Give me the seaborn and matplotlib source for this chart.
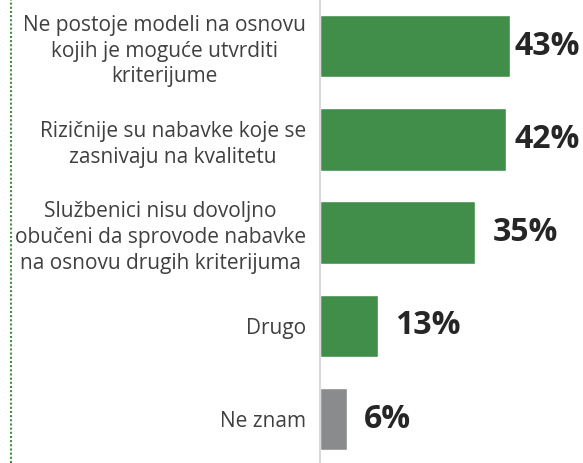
import pandas as pd
import seaborn as sns
import matplotlib.pyplot as plt
from matplotlib.lines import Line2D


categories = [
    'Ne postoje modeli na osnovu\nkojih je moguće utvrditi\nkriterijume',
    'Rizičnije su nabavke koje se\nzasnivaju na kvalitetu',
    'Službenici nisu dovoljno\nobučeni da sprovode nabavke\nna osnovu drugih kriterijuma',
    'Drugo',
    'Ne znam',
]
values = [43, 42, 35, 13, 6]
groups = ['answer', 'answer', 'answer', 'answer', 'unknown']
palette = {'answer': '#418E4A', 'unknown': '#898B8D'}

df = pd.DataFrame({'category': categories, 'value': values, 'group': groups})

sns.set_style('white')
plt.rcParams['font.family'] = ['Open Sans', 'DejaVu Sans']

fig = plt.figure(figsize=(5.83, 4.63), dpi=100)
ax = fig.add_axes([0.549, 0, 0.451, 1])

sns.barplot(data=df, y='category', x='value', hue='group', palette=palette,
            dodge=False, width=0.67, saturation=1, legend=False, ax=ax)

ax.set_xlim(0, 59.5)
ax.set_ylim(4.47, -0.495)
ax.set_xlabel('')
ax.set_ylabel('')
ax.set_xticks([])
ax.tick_params(axis='y', length=0, pad=10, labelsize=15, labelcolor='#404040')
for lab in ax.get_yticklabels():
    lab.set_multialignment('center')
    lab.set_linespacing(1.3)

for s in ['top', 'right', 'bottom']:
    ax.spines[s].set_visible(False)
ax.spines['left'].set_color('#d9d9d9')
ax.spines['left'].set_linewidth(1.5)

# value labels, pulled in for the longest bars
for i, v in enumerate(values):
    ax.text(min(v + 4, 44), i, f'{v}%', va='center', ha='left',
            fontsize=23, fontweight='bold', color='#262626')

# dotted divider from the neighbouring panel
fig.add_artist(Line2D([0.019, 0.019], [0, 1], transform=fig.transFigure,
                      color='#418E4A', lw=1.5, linestyle=(0, (1, 1))))

plt.savefig('out.png', dpi=100)
